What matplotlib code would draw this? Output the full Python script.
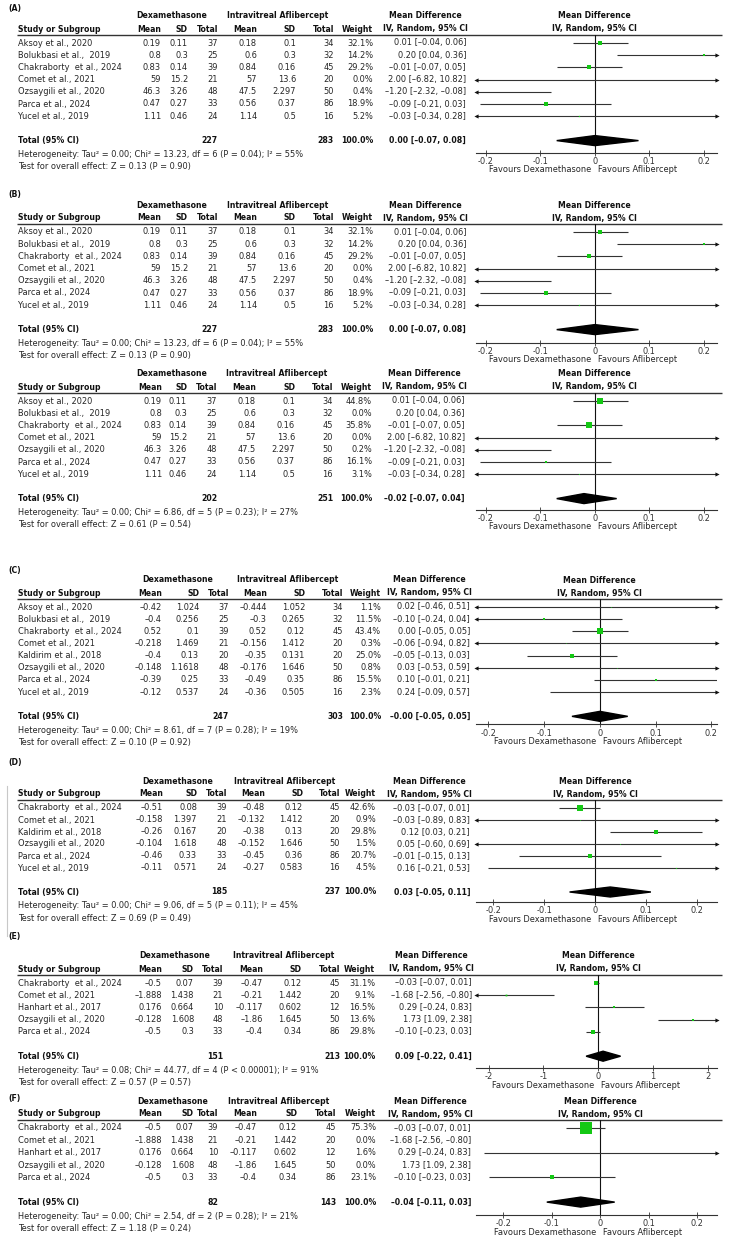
import matplotlib
matplotlib.use('Agg')
import matplotlib.pyplot as plt
from matplotlib.patches import Polygon

plt.rcParams['font.family'] = ['DejaVu Sans']

# ---------------- data ----------------
# panel A / B (same studies and numbers)
a_study = ['Aksoy et al., 2020', 'Bolukbasi et al.,  2019', 'Chakraborty  et al., 2024',
           'Comet et al., 2021', 'Ozsaygili et al., 2020', 'Parca et al., 2024', 'Yucel et al., 2019']
a_dex_mean = [0.19, 0.8, 0.83, 59, 46.3, 0.47, 1.11]
a_dex_sd = [0.11, 0.3, 0.14, 15.2, 3.26, 0.27, 0.46]
a_dex_n = [37, 25, 39, 21, 48, 33, 24]
a_afl_mean = [0.18, 0.6, 0.84, 57, 47.5, 0.56, 1.14]
a_afl_sd = [0.1, 0.3, 0.16, 13.6, 2.297, 0.37, 0.5]
a_afl_n = [34, 32, 45, 20, 50, 86, 16]
a_weight = [32.1, 14.2, 29.2, 0.0, 0.4, 18.9, 5.2]
a_used = [True, True, True, True, True, True, True]
a_md = [0.01, 0.20, -0.01, 2.00, -1.20, -0.09, -0.03]
a_lo = [-0.04, 0.04, -0.07, -6.82, -2.32, -0.21, -0.34]
a_hi = [0.06, 0.36, 0.05, 10.82, -0.08, 0.03, 0.28]
a_total = [227, 283, 0.00, -0.07, 0.08]
a_het = 'Heterogeneity: Tau² = 0.00; Chi² = 13.23, df = 6 (P = 0.04); I² = 55%'
a_test = 'Test for overall effect: Z = 0.13 (P = 0.90)'

# second part of panel B (sensitivity, Bolukbasi excluded)
b2_weight = [44.8, 0.0, 35.8, 0.0, 0.2, 16.1, 3.1]
b2_used = [True, False, True, True, True, True, True]
b2_total = [202, 251, -0.02, -0.07, 0.04]
b2_het = 'Heterogeneity: Tau² = 0.00; Chi² = 6.86, df = 5 (P = 0.23); I² = 27%'
b2_test = 'Test for overall effect: Z = 0.61 (P = 0.54)'

# panel C
c_study = ['Aksoy et al., 2020', 'Bolukbasi et al.,  2019', 'Chakraborty  et al., 2024',
           'Comet et al., 2021', 'Kaldirim et al., 2018', 'Ozsaygili et al., 2020',
           'Parca et al., 2024', 'Yucel et al., 2019']
c_dex_mean = [-0.42, -0.4, 0.52, -0.218, -0.4, -0.148, -0.39, -0.12]
c_dex_sd = [1.024, 0.256, 0.1, 1.469, 0.13, 1.1618, 0.25, 0.537]
c_dex_n = [37, 25, 39, 21, 20, 48, 33, 24]
c_afl_mean = [-0.444, -0.3, 0.52, -0.156, -0.35, -0.176, -0.49, -0.36]
c_afl_sd = [1.052, 0.265, 0.12, 1.412, 0.131, 1.646, 0.35, 0.505]
c_afl_n = [34, 32, 45, 20, 20, 50, 86, 16]
c_weight = [1.1, 11.5, 43.4, 0.3, 25.0, 0.8, 15.5, 2.3]
c_used = [True] * 8
c_md = [0.02, -0.10, 0.00, -0.06, -0.05, 0.03, 0.10, 0.24]
c_lo = [-0.46, -0.24, -0.05, -0.94, -0.13, -0.53, -0.01, -0.09]
c_hi = [0.51, 0.04, 0.05, 0.82, 0.03, 0.59, 0.21, 0.57]
c_total = [247, 303, -0.0, -0.05, 0.05]
c_het = 'Heterogeneity: Tau² = 0.00; Chi² = 8.61, df = 7 (P = 0.28); I² = 19%'
c_test = 'Test for overall effect: Z = 0.10 (P = 0.92)'

# panel D
d_study = ['Chakraborty  et al., 2024', 'Comet et al., 2021', 'Kaldirim et al., 2018',
           'Ozsaygili et al., 2020', 'Parca et al., 2024', 'Yucel et al., 2019']
d_dex_mean = [-0.51, -0.158, -0.26, -0.104, -0.46, -0.11]
d_dex_sd = [0.08, 1.397, 0.167, 1.618, 0.33, 0.571]
d_dex_n = [39, 21, 20, 48, 33, 24]
d_afl_mean = [-0.48, -0.132, -0.38, -0.152, -0.45, -0.27]
d_afl_sd = [0.12, 1.412, 0.13, 1.646, 0.36, 0.583]
d_afl_n = [45, 20, 20, 50, 86, 16]
d_weight = [42.6, 0.9, 29.8, 1.5, 20.7, 4.5]
d_used = [True] * 6
d_md = [-0.03, -0.03, 0.12, 0.05, -0.01, 0.16]
d_lo = [-0.07, -0.89, 0.03, -0.60, -0.15, -0.21]
d_hi = [0.01, 0.83, 0.21, 0.69, 0.13, 0.53]
d_total = [185, 237, 0.03, -0.05, 0.11]
d_het = 'Heterogeneity: Tau² = 0.00; Chi² = 9.06, df = 5 (P = 0.11); I² = 45%'
d_test = 'Test for overall effect: Z = 0.69 (P = 0.49)'

# panel E / F (same studies and numbers)
e_study = ['Chakraborty  et al., 2024', 'Comet et al., 2021', 'Hanhart et al., 2017',
           'Ozsaygili et al., 2020', 'Parca et al., 2024']
e_dex_mean = [-0.5, -1.888, 0.176, -0.128, -0.5]
e_dex_sd = [0.07, 1.438, 0.664, 1.608, 0.3]
e_dex_n = [39, 21, 10, 48, 33]
e_afl_mean = [-0.47, -0.21, -0.117, -1.86, -0.4]
e_afl_sd = [0.12, 1.442, 0.602, 1.645, 0.34]
e_afl_n = [45, 20, 12, 50, 86]
e_weight = [31.1, 9.1, 16.5, 13.6, 29.8]
e_used = [True] * 5
e_md = [-0.03, -1.68, 0.29, 1.73, -0.10]
e_lo = [-0.07, -2.56, -0.24, 1.09, -0.23]
e_hi = [0.01, -0.80, 0.83, 2.38, 0.03]
e_total = [151, 213, 0.09, -0.22, 0.41]
e_het = 'Heterogeneity: Tau² = 0.08; Chi² = 44.77, df = 4 (P < 0.00001); I² = 91%'
e_test = 'Test for overall effect: Z = 0.57 (P = 0.57)'

f_weight = [75.3, 0.0, 1.6, 0.0, 23.1]
f_used = [True, False, True, False, True]
f_total = [82, 143, -0.04, -0.11, 0.03]
f_het = 'Heterogeneity: Tau² = 0.00; Chi² = 2.54, df = 2 (P = 0.28); I² = 21%'
f_test = 'Test for overall effect: Z = 1.18 (P = 0.24)'

small_ticks = [-0.2, -0.1, 0, 0.1, 0.2]
small_tick_labels = ['-0.2', '-0.1', '0', '0.1', '0.2']
big_ticks = [-2, -1, 0, 1, 2]
big_tick_labels = ['-2', '-1', '0', '1', '2']

# ---------------- layout ----------------
W, H = 732, 1240
FS = 5.95      # normal text
FSB = 5.6      # bold text
TXT = '#262626'
GREEN = '#14c814'
FL, FR = 476, 717  # forest plot left/right in pixels

cols_a = [161, 188, 218, 257, 296, 334, 373, 466]
cols_b2 = [162, 187, 217, 256, 295, 333, 372, 465]
cols_c = [162, 199, 229, 267, 305, 343, 381, 470]
cols_d = [163, 197, 227, 265, 303, 340, 376, 470]
cols_e = [162, 194, 223, 263, 302, 340, 375, 472]
cols_f = [162, 194, 218, 257, 297, 336, 376, 471]


def panel(study, dm, dsd, dn, am, asd, an, w, used, md, lo, hi, total, het, test,
          label, label_y, row0, sp, cols, xlim, ticks, tlabels, gap):
    return dict(study=study, dm=dm, dsd=dsd, dn=dn, am=am, asd=asd, an=an, w=w,
                used=used, md=md, lo=lo, hi=hi, total=total, het=het, test=test,
                label=label, label_y=label_y, row0=row0, sp=sp, cols=cols,
                xlim=xlim, ticks=ticks, tlabels=tlabels, gap=gap)


a_cols = (a_study, a_dex_mean, a_dex_sd, a_dex_n, a_afl_mean, a_afl_sd, a_afl_n)
e_cols = (e_study, e_dex_mean, e_dex_sd, e_dex_n, e_afl_mean, e_afl_sd, e_afl_n)
panels = [
    panel(*a_cols, a_weight, a_used, a_md, a_lo, a_hi, a_total, a_het, a_test,
          '(A)', 8, 43, 12.2, cols_a, (-0.218, 0.224), small_ticks, small_tick_labels, 12),
    panel(*a_cols, a_weight, a_used, a_md, a_lo, a_hi, a_total, a_het, a_test,
          '(B)', 195, 232, 12.2, cols_a, (-0.218, 0.224), small_ticks, small_tick_labels, 13),
    panel(*a_cols, b2_weight, b2_used, a_md, a_lo, a_hi, b2_total, b2_het, b2_test,
          None, 0, 401, 12.2, cols_b2, (-0.218, 0.224), small_ticks, small_tick_labels, 11),
    panel(c_study, c_dex_mean, c_dex_sd, c_dex_n, c_afl_mean, c_afl_sd, c_afl_n,
          c_weight, c_used, c_md, c_lo, c_hi, c_total, c_het, c_test,
          '(C)', 571, 607, 12.15, cols_c, (-0.222, 0.21), small_ticks, small_tick_labels, 8),
    panel(d_study, d_dex_mean, d_dex_sd, d_dex_n, d_afl_mean, d_afl_sd, d_afl_n,
          d_weight, d_used, d_md, d_lo, d_hi, d_total, d_het, d_test,
          '(D)', 762, 808, 12.0, cols_d, (-0.234, 0.24), small_ticks, small_tick_labels, 10),
    panel(*e_cols, e_weight, e_used, e_md, e_lo, e_hi, e_total, e_het, e_test,
          '(E)', 936, 983, 12.2, cols_e, (-2.23, 2.17), big_ticks, big_tick_labels, 12),
    panel(*e_cols, f_weight, f_used, e_md, e_lo, e_hi, f_total, f_het, f_test,
          '(F)', 1099, 1128, 12.35, cols_f, (-0.256, 0.241), small_ticks, small_tick_labels, 13),
]


def num(v):
    return str(v).replace('-', '–')


def ci_text(m, l, h):
    return f'{m:.2f} [{l:.2f}, {h:.2f}]'.replace('-', '–')


fig = plt.figure(figsize=(W / 100, H / 100), dpi=100)
page = fig.add_axes([0, 0, 1, 1])
page.set_xlim(0, W)
page.set_ylim(H, 0)
page.axis('off')

# faint frame at the left of panel D
page.plot([7, 7], [786, 936], color='#c8c8c8', lw=0.8)

for p in panels:
    row0, sp, cols = p['row0'], p['sp'], p['cols']
    n = len(p['study'])
    hdr_y = row0 - 8
    tot_y = row0 + (n + 1) * sp
    axis_y = tot_y + p['gap']
    bold = dict(fontsize=FSB, color='#111111', fontweight='bold', va='center')
    norm = dict(fontsize=FS, color=TXT, va='center')

    if p['label']:
        page.text(8, p['label_y'], p['label'], ha='left', **bold)

    # header
    page.text((cols[0] - 35 + cols[2]) / 2, row0 - 27, 'Dexamethasone', ha='center', **bold)
    page.text((cols[3] - 35 + cols[5]) / 2, row0 - 27, 'Intravitreal Aflibercept', ha='center', **bold)
    page.text(cols[7] - 41, row0 - 27, 'Mean Difference', ha='center', **bold)
    page.text(cols[7] - 41, row0 - 14, 'IV, Random, 95% CI', ha='center', **bold)
    page.text(18, row0 - 14, 'Study or Subgroup', ha='left', **bold)
    for x, s in zip(cols[:7], ['Mean', 'SD', 'Total', 'Mean', 'SD', 'Total', 'Weight']):
        page.text(x, row0 - 14, s, ha='right', **bold)
    page.plot([17, 722], [hdr_y, hdr_y], color='#333333', lw=1.0, solid_capstyle='butt')

    # study rows
    for i in range(n):
        y = row0 + i * sp
        page.text(18, y, p['study'][i], ha='left', **norm)
        vals = [num(p['dm'][i]), num(p['dsd'][i]), str(p['dn'][i]),
                num(p['am'][i]), num(p['asd'][i]), str(p['an'][i]),
                f"{p['w'][i]:.1f}%", ci_text(p['md'][i], p['lo'][i], p['hi'][i])]
        for x, v in zip(cols, vals):
            page.text(x, y, v, ha='right', **norm)

    tn_d, tn_a, tm, tl, th = p['total']
    page.text(18, tot_y, 'Total (95% CI)', ha='left', **bold)
    page.text(cols[2], tot_y, str(tn_d), ha='right', **bold)
    page.text(cols[5], tot_y, str(tn_a), ha='right', **bold)
    page.text(cols[6], tot_y, '100.0%', ha='right', **bold)
    page.text(cols[7], tot_y, ci_text(tm, tl, th), ha='right', **bold)
    page.text(18, tot_y + 14, p['het'], ha='left', **norm)
    page.text(18, tot_y + 26, p['test'], ha='left', **norm)

    # forest plot
    ax = fig.add_axes([FL / W, 1 - axis_y / H, (FR - FL) / W, (axis_y - hdr_y) / H])
    x0, x1 = p['xlim']
    ax.set_xlim(x0, x1)
    ax.set_ylim((axis_y - row0) / sp, (hdr_y - row0) / sp)
    ax.patch.set_alpha(0)
    ax.axvline(0, color='#111111', lw=0.8)
    for i in range(n):
        if not p['used'][i]:
            continue
        lo, hi, md = p['lo'][i], p['hi'][i], p['md'][i]
        a, b = max(lo, x0), min(hi, x1)
        ax.plot([a, b], [i, i], color='#333333', lw=0.8, solid_capstyle='butt')
        if lo < x0:
            ax.plot(x0, i, marker='<', ms=3, color='#111111', mew=0, clip_on=False)
        if hi > x1:
            ax.plot(x1, i, marker='>', ms=3, color='#111111', mew=0, clip_on=False)
        if x0 < md < x1:
            size = (0.5 + 0.14 * p['w'][i]) * 0.72
            ax.plot(md, i, marker='s', ms=size, color=GREEN, mew=0, zorder=5)
    ty = n + 1
    dh = 5 / sp
    ax.add_patch(Polygon([(tl, ty), (tm, ty - dh), (th, ty), (tm, ty + dh)],
                         closed=True, color='#000000', zorder=6))

    for side in ['top', 'left', 'right']:
        ax.spines[side].set_visible(False)
    ax.spines['bottom'].set_linewidth(0.8)
    ax.spines['bottom'].set_color('#333333')
    ax.set_yticks([])
    ax.set_xticks(p['ticks'])
    ax.set_xticklabels(p['tlabels'])
    ax.tick_params(axis='x', direction='inout', length=5, width=0.6, pad=0.5,
                   labelsize=FS, colors='#333333')

    ax.annotate('Mean Difference', xy=(0, 1), xycoords=('data', 'axes fraction'),
                xytext=(0, 19), textcoords='offset pixels', ha='center', **bold)
    ax.annotate('IV, Random, 95% CI', xy=(0, 1), xycoords=('data', 'axes fraction'),
                xytext=(0, 6), textcoords='offset pixels', ha='center', **bold)
    ax.annotate('Favours Dexamethasone', xy=(0, 0), xycoords=('data', 'axes fraction'),
                xytext=(-4, -17), textcoords='offset pixels', ha='right', **norm)
    ax.annotate('Favours Aflibercept', xy=(0, 0), xycoords=('data', 'axes fraction'),
                xytext=(3, -17), textcoords='offset pixels', ha='left', **norm)

fig.savefig('out.png', dpi=100)
